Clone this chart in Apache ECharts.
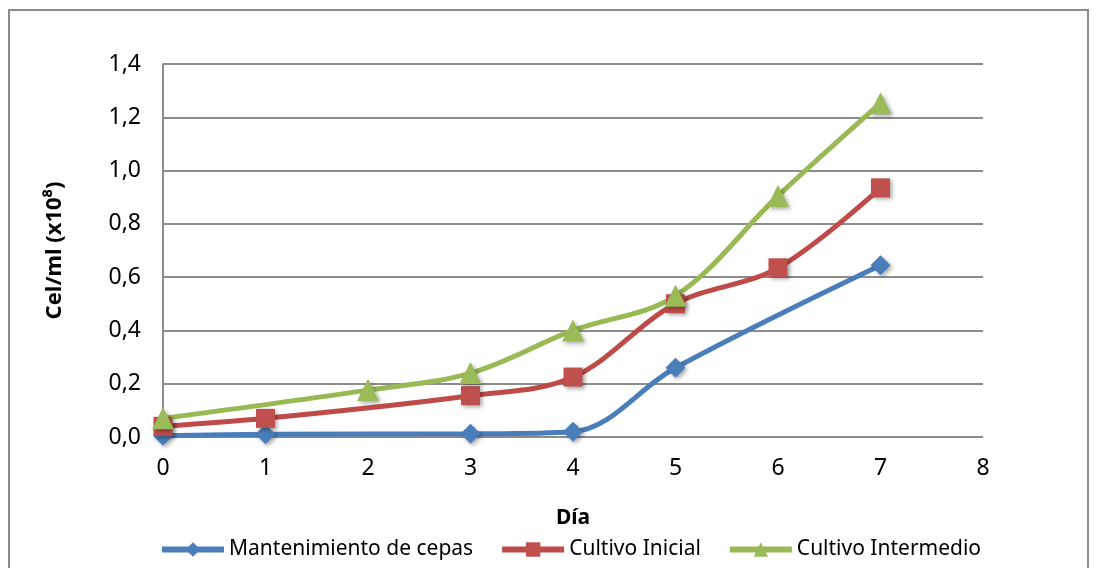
<!DOCTYPE html>
<html>
<head>
<meta charset="utf-8">
<script src="https://cdn.jsdelivr.net/npm/echarts@6/dist/echarts.min.js"></script>
<style>
  html, body { margin: 0; padding: 0; background: #fff; }
  #frame { position: absolute; left: 8px; top: 9px; width: 1081px; height: 600px; border: 2px solid #8c8c8c; box-sizing: border-box; }
  #chart { position: absolute; left: 0; top: 0; width: 1097px; height: 568px; }
</style>
</head>
<body>
<div id="frame"></div>
<div id="chart"></div>
<script>
  const FONT = "'Noto Sans', sans-serif";

  // Day -> cel/ml (x10^8); missing days were not plotted in the original
  const mantenimientoDays = [0, 1, 3, 4, 5, 7];
  const mantenimientoVals = [0.005, 0.01, 0.012, 0.02, 0.26, 0.645];

  const inicialDays = [0, 1, 3, 4, 5, 6, 7];
  const inicialVals = [0.04, 0.07, 0.155, 0.225, 0.5, 0.635, 0.935];

  const intermedioDays = [0, 2, 3, 4, 5, 6, 7];
  const intermedioVals = [0.07, 0.176, 0.24, 0.4, 0.53, 0.905, 1.253];

  const seriesNames = ["Mantenimiento de cepas", "Cultivo Inicial", "Cultivo Intermedio"];

  const pairs = (xs, ys) => xs.map((x, i) => [x, ys[i]]);

  const chart = echarts.init(document.getElementById("chart"));

  const markerShadow = {
    shadowBlur: 4,
    shadowOffsetX: 2,
    shadowOffsetY: 2,
    shadowColor: "rgba(0,0,0,0.35)",
  };

  const options = {
    animation: false,
    textStyle: { fontFamily: FONT },
    grid: { left: 163, right: 114, top: 64, bottom: 131 },
    legend: {
      bottom: 3,
      left: 154,
      itemWidth: 62,
      itemHeight: 18,
      itemGap: 26,
      lineStyle: { width: 6 },
      textStyle: { fontSize: 21, color: "#000", fontFamily: FONT },
      data: seriesNames,
    },
    xAxis: {
      type: "value",
      min: 0,
      max: 8,
      interval: 1,
      name: "Día",
      nameLocation: "middle",
      nameGap: 71,
      nameTextStyle: { fontSize: 21, fontWeight: "bold", color: "#000", fontFamily: FONT },
      axisLine: { show: false },
      axisTick: { show: false },
      splitLine: { show: false },
      axisLabel: { fontSize: 23, color: "#000", margin: 20, fontFamily: FONT },
    },
    yAxis: {
      type: "value",
      min: 0,
      max: 1.4,
      interval: 0.2,
      name: "Cel/ml (x10⁸)",
      nameLocation: "middle",
      nameGap: 97,
      nameTextStyle: { fontSize: 22, fontWeight: "bold", color: "#000", fontFamily: FONT },
      axisLine: { show: true, lineStyle: { color: "#8c8c8c", width: 2 } },
      axisTick: { show: false },
      splitLine: { show: true, lineStyle: { color: "#8c8c8c", width: 2 } },
      axisLabel: {
        fontSize: 23,
        color: "#000",
        margin: 22,
        fontFamily: FONT,
        formatter: (v) => v.toFixed(1).replace(".", ","),
      },
    },
    series: [
      {
        name: seriesNames[0],
        type: "line",
        smooth: 0.35,
        data: pairs(mantenimientoDays, mantenimientoVals),
        symbol: "diamond",
        symbolSize: 20,
        lineStyle: { color: "#4a7ebb", width: 5 },
        itemStyle: Object.assign({ color: "#4a7ebb" }, markerShadow),
      },
      {
        name: seriesNames[1],
        type: "line",
        smooth: 0.35,
        data: pairs(inicialDays, inicialVals),
        symbol: "rect",
        symbolSize: 19,
        lineStyle: { color: "#be4b48", width: 5 },
        itemStyle: Object.assign({ color: "#c0504d" }, markerShadow),
      },
      {
        name: seriesNames[2],
        type: "line",
        smooth: 0.35,
        data: pairs(intermedioDays, intermedioVals),
        symbol: "triangle",
        symbolSize: 22,
        lineStyle: { color: "#98b954", width: 5 },
        itemStyle: Object.assign({ color: "#9bbb59" }, markerShadow),
      },
    ],
  };

  chart.setOption(options);
</script>
</body>
</html>
